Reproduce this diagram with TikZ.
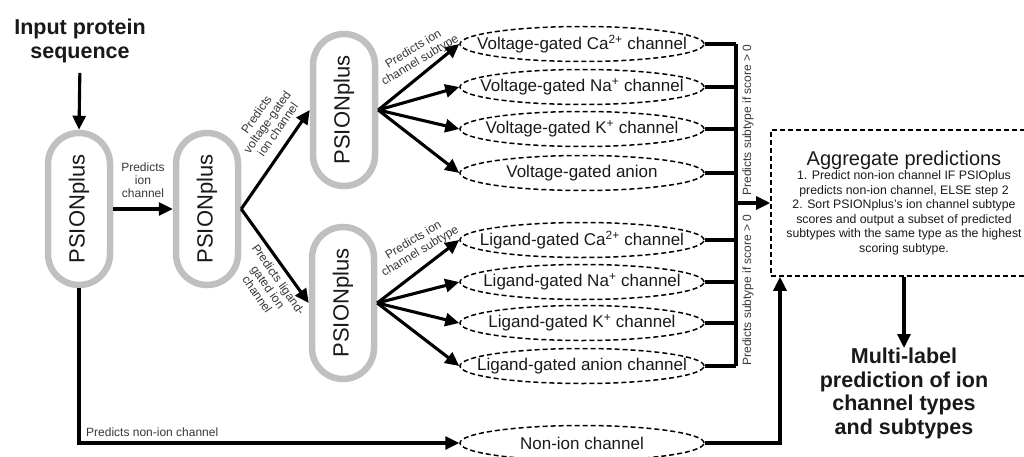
\documentclass[tikz,border=0pt]{standalone}
\usepackage{fontspec}
\setmainfont{Liberation Sans}
\usepackage{graphicx}
\usetikzlibrary{arrows.meta,shapes.geometric}
\definecolor{pillgray}{RGB}{192,192,192}
\definecolor{lblgray}{RGB}{55,55,55}
\definecolor{txt}{RGB}{25,25,25}
\begin{document}
\begin{tikzpicture}[x=1pt,y=-1pt,
  pill/.style={draw=pillgray,line width=6.5pt,rounded corners=31pt,minimum width=62pt,minimum height=152pt,inner sep=0pt,outer sep=3.25pt,text=txt,font=\fontsize{22}{24}\selectfont},
  ell/.style={ellipse,draw,line width=1.5pt,dash pattern=on 5pt off 3pt,minimum width=244pt,minimum height=35pt,inner sep=0pt,text=txt,font=\fontsize{17}{20}\selectfont},
  lab/.style={align=center,text=lblgray,inner sep=0pt,font=\fontsize{12}{13}\selectfont},
  big/.style={align=center,text=txt,inner sep=0pt,font=\fontsize{21.5}{23.5}\selectfont\bfseries},
  arr/.style={line width=3.1pt,-{Triangle[length=14pt,width=13pt]}},
  conn/.style={line width=3.1pt},
  aggbox/.style={draw,line width=1.6pt,dash pattern=on 5pt off 3pt,minimum width=266pt,minimum height=146pt,align=center,inner sep=0pt,text=txt,font=\fontsize{12.3}{14.5}\selectfont}
]
\useasboundingbox (0,0) rectangle (1024,457);

% input
\node[big] (inp) at (80,41) {Input protein\\sequence};

% PSIONplus pills
\node[pill] (p1) at (79,209) {\rotatebox{90}{PSIONplus}};
\node[pill] (p2) at (207,209) {\rotatebox{90}{PSIONplus}};
\node[pill] (p3) at (344,110) {\rotatebox{90}{PSIONplus}};
\node[pill] (p4) at (343,303) {\rotatebox{90}{PSIONplus}};

% ellipses
\node[ell] (v1) at (582,44)  {\makebox[0pt]{Voltage-gated Ca\textsuperscript{2+} channel}};
\node[ell] (v2) at (582,87)  {\makebox[0pt]{Voltage-gated Na\textsuperscript{+} channel}};
\node[ell] (v3) at (582,129) {\makebox[0pt]{Voltage-gated K\textsuperscript{+} channel}};
\node[ell] (v4) at (582,173) {\makebox[0pt]{Voltage-gated anion}};
\node[ell] (l1) at (582,240) {\makebox[0pt]{Ligand-gated Ca\textsuperscript{2+} channel}};
\node[ell] (l2) at (582,282) {\makebox[0pt]{Ligand-gated Na\textsuperscript{+} channel}};
\node[ell] (l3) at (582,323) {\makebox[0pt]{Ligand-gated K\textsuperscript{+} channel}};
\node[ell] (l4) at (582,366) {\makebox[0pt]{Ligand-gated anion channel}};
\node[ell] (ni) at (582,443) {\makebox[0pt]{Non-ion channel}};

% aggregate box
\node[aggbox] (agg) at (904,203) {{\fontsize{20}{22}\selectfont Aggregate predictions}\\
1. Predict non-ion channel IF PSIOplus\\
predicts non-ion channel, ELSE step 2\\
2. Sort PSIONplus's ion channel subtype\\
scores and output a subset of predicted\\
subtypes with the same type as the highest\\
scoring subtype.};

% output
\node[big,anchor=north] (out) at (904,348) {Multi-label\\prediction of ion\\channel types\\and subtypes};

% connectors
\draw[arr,shorten <=10pt] (inp.south) -- (p1.north);
\draw[arr] (p1.east) -- (p2.west) node[lab,midway,above=10pt] {Predicts\\ion\\channel};
\draw[arr] (p2.east) -- (p3.west);
\draw[arr] (p2.east) -- (p4.west);
\node[lab,rotate=55] at (267,122) {Predicts\\voltage-gated\\ion channel};
\node[lab,rotate=-55] at (268,287) {Predicts ligand-\\gated ion\\channel};

\foreach \e in {v1,v2,v3,v4} \draw[arr] (p3.east) -- (\e.west);
\foreach \e in {l1,l2,l3,l4} \draw[arr] (p4.east) -- (\e.west);
\node[lab,rotate=31] at (417,55) {Predicts ion\\channel subtype};
\node[lab,rotate=31] at (417,246) {Predicts ion\\channel subtype};

% collecting bar
\coordinate (bartop) at (736,44);
\coordinate (barbot) at (736,366);
\coordinate (barmid) at (736,203);
\draw[conn] (bartop) -- (barbot);
\foreach \e in {v1,v2,v3,v4,l1,l2,l3,l4} \draw[conn] (\e.east) -- (\e.east -| bartop);
\draw[arr] (barmid) -- (agg.west);
\node[lab,rotate=90] at (748,120) {Predicts subtype if score > 0};
\node[lab,rotate=90] at (748,290) {Predicts subtype if score > 0};

% non-ion path
\coordinate (p1down) at (79,443);
\draw[arr] (p1.south) -- (p1down) -- (ni.west);
\node[lab,anchor=south west] at (86,437) {Predicts non-ion channel};
\coordinate (nicorner) at (780,443);
\draw[arr] (ni.east) -- (nicorner) -- (nicorner |- agg.south);

\draw[arr] (agg.south) -- (out.north);
\end{tikzpicture}
\end{document}
